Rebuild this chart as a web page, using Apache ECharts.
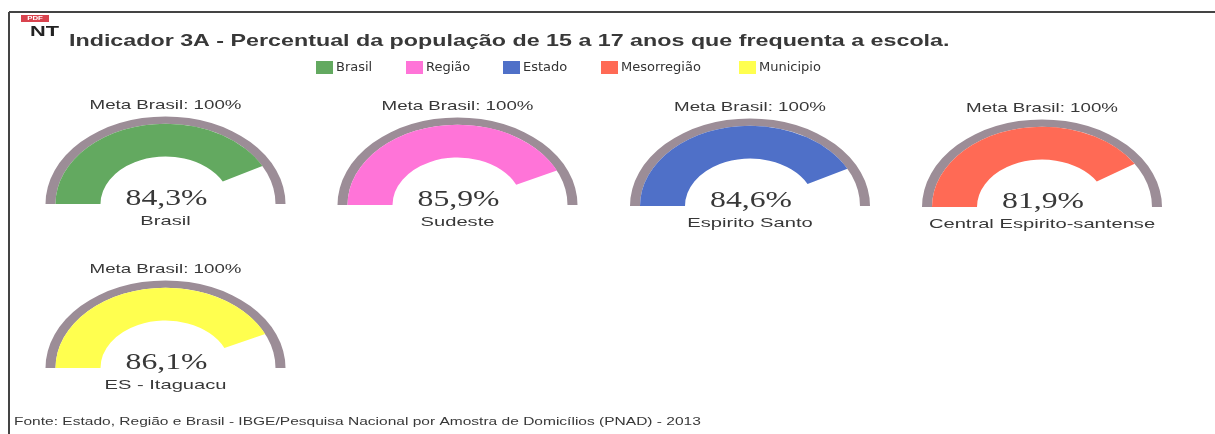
<!DOCTYPE html>
<html>
<head>
<meta charset="utf-8">
<style>
html, body { margin: 0; padding: 0; background: #fff; }
#chart { width: 1215px; height: 434px; }
</style>
<script src="https://cdn.jsdelivr.net/npm/echarts@6/dist/echarts.min.js"></script>
</head>
<body>
<div id="chart"></div>
<script>
var levels = ['Brasil', 'Região', 'Estado', 'Mesorregião', 'Municipio'];
var places = ['Brasil', 'Sudeste', 'Espirito Santo', 'Central Espirito-santense', 'ES - Itaguacu'];
var values = [84.3, 85.9, 84.6, 81.9, 86.1];
var valueLabels = ['84,3%', '85,9%', '84,6%', '81,9%', '86,1%'];
var metaLabel = 'Meta Brasil: 100%';
var titleText = 'Indicador 3A - Percentual da população de 15 a 17 anos que frequenta a escola.';
var sourceText = 'Fonte: Estado, Região e Brasil - IBGE/Pesquisa Nacional por Amostra de Domicílios (PNAD) - 2013';

var colors = ['#63a960', '#ff74d8', '#4f70c8', '#ff6a55', '#ffff4f'];
var trackColor = '#9c8d97';
var inkColor = '#383838';
// gauge centres, the scan is a bit tilted so the baseline creeps down
var centers = [[165.5, 204], [457.5, 205], [750, 206], [1042, 207], [165.5, 368]];
var legendLefts = [316, 406, 503, 601, 739];
var squash = 0.73;   // gauges are ellipses in the reference
var stretch = 1.44;  // and the text is stretched the same way

function textEl(text, x, y, font, align, sx, color) {
    return {
        type: 'text', x: x, y: y, scaleX: sx, silent: true,
        style: { text: text, font: font, fill: color || inkColor, align: align, verticalAlign: 'middle' }
    };
}

function lineEl(x1, y1, x2, y2) {
    return { type: 'line', silent: true, shape: { x1: x1, y1: y1, x2: x2, y2: y2 }, style: { stroke: '#444444', lineWidth: 2 } };
}

function gaugeItem(center) {
    return function (params, api) {
        var end = echarts.number.linearMap(api.value(0), [0, 100], [Math.PI, 2 * Math.PI]);
        return {
            type: 'group', x: center[0], y: center[1], scaleY: squash,
            children: [
                { type: 'sector', shape: { cx: 0, cy: 0, r0: 110, r: 120, startAngle: Math.PI, endAngle: 2 * Math.PI }, style: { fill: trackColor } },
                { type: 'sector', shape: { cx: 0, cy: 0, r0: 65, r: 110, startAngle: Math.PI, endAngle: end }, style: { fill: api.visual('color') } }
            ]
        };
    };
}

var series = levels.map(function (name, i) {
    return {
        name: name,
        type: 'custom',
        coordinateSystem: 'none',
        itemStyle: { color: colors[i] },
        renderItem: gaugeItem(centers[i]),
        data: [[values[i]]]
    };
});

// one legend per level, their spacing in the reference is not even
var legends = levels.map(function (name, i) {
    return {
        left: legendLefts[i],
        top: 61,
        padding: 0,
        icon: 'rect',
        itemWidth: 17,
        itemHeight: 13,
        selectedMode: false,
        data: [name],
        textStyle: { fontFamily: 'DejaVu Sans', fontSize: 13, color: '#333333', padding: [0, 0, 0, -2] }
    };
});

var texts = [
    lineEl(9, 12, 1215, 12),
    lineEl(9, 12, 9, 434),
    { type: 'rect', silent: true, shape: { x: 21, y: 15, width: 28, height: 7 }, style: { fill: '#d9434e' } },
    textEl('PDF', 35, 18.5, 'bold 6px "Liberation Sans"', 'center', 1.3, '#ffffff'),
    textEl('NT', 30, 32, 'bold 15px "Liberation Sans"', 'left', 1.45, '#222222'),
    textEl(titleText, 69, 41, 'bold 16.5px "Liberation Sans"', 'left', 1.41),
    textEl(sourceText, 14, 422, '11.5px "Liberation Sans"', 'left', 1.35)
];
centers.forEach(function (c, i) {
    texts.push(textEl(metaLabel, c[0], c[1] - 99, '13px "Liberation Sans"', 'center', stretch));
    texts.push(textEl(valueLabels[i], c[0] + 1, c[1] - 5, '23px "Liberation Serif"', 'center', 1.38));
    texts.push(textEl(places[i], c[0], c[1] + 17, '13px "Liberation Sans"', 'center', 1.55));
});

var chart = echarts.init(document.getElementById('chart'), null, { renderer: 'canvas' });
chart.setOption({
    animation: false,
    backgroundColor: '#ffffff',
    legend: legends,
    graphic: { elements: texts },
    series: series
});
</script>
</body>
</html>
